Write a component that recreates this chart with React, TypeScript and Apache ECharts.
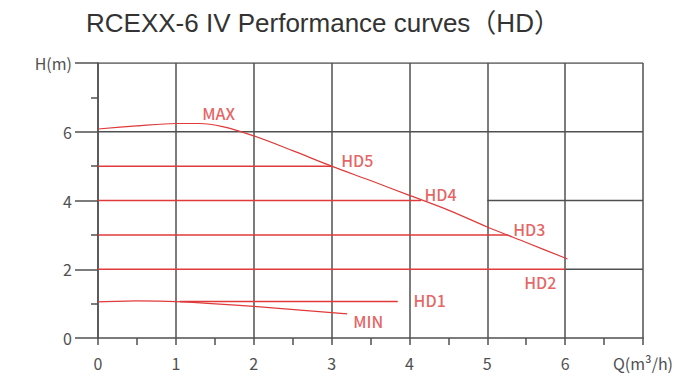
import React, { useEffect, useRef } from "react";
import * as echarts from "echarts";

const titleText = "RCEXX-6 IV Performance curves（HD）";
const xAxisName = "Q(m³/h)";
const yAxisName = "H(m)";

// MAX performance curve (Q, H)
const maxCurve: [number, number][] = [
  [0, 6.08], [0.5, 6.17], [1, 6.24], [1.3, 6.24], [1.6, 6.15], [2, 5.88],
  [2.5, 5.45], [3, 5.0], [3.5, 4.58], [4, 4.15], [4.5, 3.72], [5, 3.23],
  [5.5, 2.78], [6.03, 2.3],
];
// MIN performance curve
const minCurve: [number, number][] = [
  [0, 1.05], [0.5, 1.08], [1, 1.06], [2, 0.92], [3.2, 0.7],
];
// HD setting lines
const hdNames = ["HD5", "HD4", "HD3", "HD2", "HD1"];
const hdHeights = [5, 4, 3, 2, 1.06];
const hdStarts = [0, 0, 0, 0, 1.05];
const hdEnds = [3, 4.15, 5.27, 6, 3.85];
// label positions [Q, H]
const labelNames = ["MAX", "HD5", "HD4", "HD3", "HD2", "HD1", "MIN"];
const labelQ = [1.55, 3.33, 4.4, 5.54, 5.68, 4.26, 3.47];
const labelH = [6.55, 5.18, 4.19, 3.18, 1.64, 1.11, 0.5];
// horizontal gray grid rows
const gridRowH = [8, 6, 4, 2];
const gridRowStart = [0, 0, 5, 6];
const gridRowEnd = [7, 7, 7, 7];

const RED = "#e03a3a";
const GRAY = "#505050";
const FONT = "'Noto Sans CJK SC', 'Noto Sans', sans-serif";

export default function App() {
  const ref = useRef<HTMLDivElement>(null);
  useEffect(() => {
    if (!ref.current) return;
    const chart = echarts.init(ref.current, undefined, { renderer: "svg" });
    const series: any[] = [];
    gridRowH.forEach((h, i) => {
      series.push({
        type: "line",
        data: [[gridRowStart[i], h], [gridRowEnd[i], h]],
        symbol: "none",
        lineStyle: { color: GRAY, width: 1.5 },
        z: 1,
        silent: true,
      });
    });
    hdNames.forEach((n, i) => {
      series.push({
        type: "line",
        name: n,
        data: [[hdStarts[i], hdHeights[i]], [hdEnds[i], hdHeights[i]]],
        symbol: "none",
        lineStyle: { color: RED, width: 1.5 },
        z: 3,
      });
    });
    series.push({
      type: "line",
      name: "MAX",
      data: maxCurve,
      smooth: 0.3,
      symbol: "none",
      lineStyle: { color: RED, width: 1.2 },
      z: 3,
    });
    series.push({
      type: "line",
      name: "MIN",
      data: minCurve,
      smooth: 0.3,
      symbol: "none",
      lineStyle: { color: RED, width: 1.2 },
      z: 3,
    });
    series.push({
      type: "scatter",
      symbolSize: 0,
      data: labelNames.map((n, i) => ({ value: [labelQ[i], labelH[i]], name: n })),
      label: {
        show: true,
        position: "inside",
        formatter: (p: any) => p.name,
        color: RED,
        fontSize: 16,
        fontWeight: 500,
        fontFamily: FONT,
      },
      z: 4,
    });

    chart.setOption({
      animation: false,
      backgroundColor: "#ffffff",
      title: {
        text: titleText,
        left: 81,
        top: 5,
        textStyle: {
          fontSize: 26,
          fontWeight: "normal",
          color: "#333333",
          fontFamily: "'Liberation Sans', Arial, 'Noto Sans CJK SC', sans-serif",
        },
      },
      grid: { left: 98, right: 41, top: 63, bottom: 42, containLabel: false },
      xAxis: {
        type: "value",
        min: 0,
        max: 7,
        interval: 1,
        axisLine: { show: true, lineStyle: { color: GRAY, width: 1.5 } },
        axisTick: { show: true, length: 7, lineStyle: { color: GRAY, width: 1.5 } },
        minorTick: { show: true, splitNumber: 2, length: 7, lineStyle: { color: GRAY, width: 1.5 } },
        splitLine: { show: true, lineStyle: { color: GRAY, width: 1.5 } },
        axisLabel: {
          margin: 17,
          color: GRAY,
          fontSize: 16,
          fontFamily: FONT,
          formatter: (v: number) => (v === 7 ? xAxisName : String(v)),
        },
      },
      yAxis: {
        type: "value",
        min: 0,
        max: 8,
        interval: 2,
        axisLine: { show: true, lineStyle: { color: GRAY, width: 1.5 } },
        axisTick: { show: true, length: 23, lineStyle: { color: GRAY, width: 1.5 } },
        minorTick: { show: true, splitNumber: 2, length: 7, lineStyle: { color: GRAY, width: 1.5 } },
        splitLine: { show: false },
        axisLabel: {
          margin: 26,
          color: GRAY,
          fontSize: 16,
          fontFamily: FONT,
          formatter: (v: number) => (v === 8 ? yAxisName : String(v)),
        },
      },
      series,
    });
    return () => chart.dispose();
  }, []);
  return <div ref={ref} style={{ width: 684, height: 380, position: "absolute", left: 0, top: 0 }} />;
}
